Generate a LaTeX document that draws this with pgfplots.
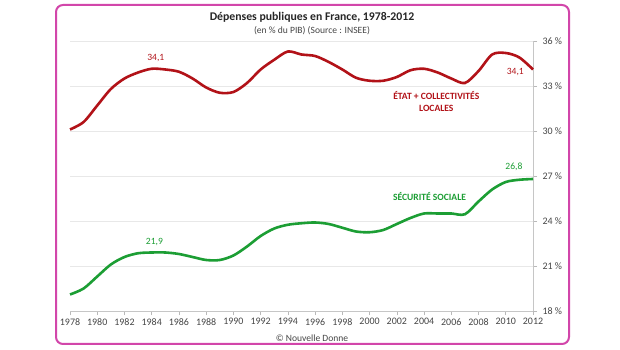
\documentclass[border=0pt]{standalone}
\usepackage{pgfplots}
\pgfplotsset{compat=1.18}
\usepackage{fontspec}
\setmainfont{Carlito}
\definecolor{redc}{RGB}{178,18,24}
\definecolor{greenc}{RGB}{28,158,52}
\definecolor{framec}{RGB}{210,70,170}
\definecolor{txt}{RGB}{70,70,70}
\begin{document}
\begin{tikzpicture}
\fill[white] (0bp,0bp) rectangle (620bp,350bp);
\draw[framec, line width=2bp, rounded corners=7bp] (56bp,6bp) rectangle (569bp,345bp);
\node[font=\fontsize{11.8}{14}\selectfont\bfseries, text=black!85] at (312bp,333bp) {Dépenses publiques en France, 1978-2012};
\node[font=\fontsize{9.6}{11}\selectfont, text=txt] at (312bp,319.5bp) {(en \% du PIB) (Source : INSEE)};
\node[font=\fontsize{9.6}{11}\selectfont, text=txt] at (312bp,12bp) {© Nouvelle Donne};
\begin{axis}[at={(70bp,39bp)}, anchor=south west, scale only axis,
  width=463bp, height=270bp,
  xmin=1978, xmax=2012, ymin=18, ymax=36,
  axis x line*=bottom, axis y line*=right,
  axis line style={draw=gray!45, line width=0.6bp},
  xtick={1978,1980,...,2012}, ytick={18,21,...,36},
  tick style={draw=gray!55, line width=0.6bp},
  major tick length=4bp, tick align=outside,
  ymajorgrids, grid style={draw=gray!18, line width=0.6bp},
  /pgf/number format/1000 sep={},
  /pgf/number format/assume math mode=true,
  yticklabel={\pgfmathprintnumber{\tick}~\%},
  tick label style={font=\fontsize{10}{12}\selectfont, text=txt},
  yticklabel style={xshift=2bp},
  clip=false,
]
\addplot[redc, line width=2.6bp, smooth, tension=0.5] coordinates {
(1978,30.1) (1979,30.6) (1980,31.7) (1981,32.8) (1982,33.5) (1983,33.9)
(1984,34.15) (1985,34.1) (1986,33.95) (1987,33.5) (1988,32.9) (1989,32.55)
(1990,32.6) (1991,33.2) (1992,34.1) (1993,34.75) (1994,35.3) (1995,35.1)
(1996,35.0) (1997,34.6) (1998,34.1) (1999,33.55) (2000,33.35) (2001,33.35)
(2002,33.6) (2003,34.05) (2004,34.15) (2005,33.9) (2006,33.5) (2007,33.2)
(2008,34.0) (2009,35.1) (2010,35.2) (2011,34.9) (2012,34.1)};
\addplot[greenc, line width=2.6bp, smooth, tension=0.5] coordinates {
(1978,19.1) (1979,19.5) (1980,20.3) (1981,21.1) (1982,21.6) (1983,21.85)
(1984,21.9) (1985,21.9) (1986,21.8) (1987,21.6) (1988,21.4) (1989,21.4)
(1990,21.7) (1991,22.3) (1992,23.0) (1993,23.5) (1994,23.75) (1995,23.85)
(1996,23.9) (1997,23.8) (1998,23.55) (1999,23.3) (2000,23.25) (2001,23.4)
(2002,23.8) (2003,24.2) (2004,24.5) (2005,24.5) (2006,24.5) (2007,24.45)
(2008,25.3) (2009,26.1) (2010,26.6) (2011,26.75) (2012,26.8)};
\node[text=redc, font=\fontsize{9.6}{11}\selectfont] at (axis cs:1984.3,34.85) {34,1};
\node[text=redc, font=\fontsize{9.6}{11}\selectfont] at (axis cs:2010.7,33.9) {34,1};
\node[text=greenc, font=\fontsize{9.6}{11}\selectfont] at (axis cs:1984.2,22.6) {21,9};
\node[text=greenc, font=\fontsize{9.6}{11}\selectfont] at (axis cs:2010.6,27.6) {26,8};
\node[text=redc, font=\fontsize{9.6}{12}\selectfont\bfseries, align=center] at (axis cs:2004.9,31.95) {ÉTAT + COLLECTIVITÉS\\LOCALES};
\node[text=greenc, font=\fontsize{9.6}{11}\selectfont\bfseries] at (axis cs:2004.4,25.6) {SÉCURITÉ SOCIALE};
\end{axis}
\end{tikzpicture}
\end{document}
